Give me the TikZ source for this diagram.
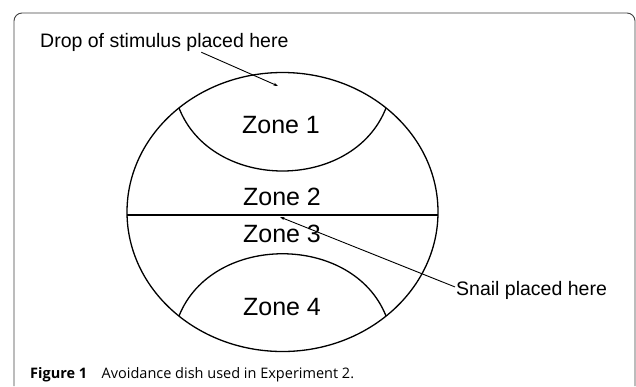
\documentclass[tikz,border=0pt]{standalone}
\usepackage{fontspec}
\setmainfont{Liberation Sans}
\newfontfamily\capfont{Open Sans}
\usetikzlibrary{arrows.meta,positioning}

\begin{document}
\begin{tikzpicture}[x=1pt, y=-1pt, >={Stealth[length=4.5pt,width=3pt]},
    zone/.style={font=\fontsize{25}{29}\selectfont, anchor=base},
    note/.style={font=\fontsize{19.5}{23}\selectfont, anchor=base west, inner sep=1pt},
    dish/.style={line width=1.3pt},
    pointer/.style={->, line width=0.9pt}]
    \useasboundingbox (0,0) rectangle (636,386);
    % panel frame
    \draw[black!75, line width=0.9pt, rounded corners=8pt] (14,386) -- (14,13) -- (635,13) -- (635,386);

    % dish and zone borders
    \draw[dish] (282.5,212) ellipse [x radius=155.5, y radius=139.5];
    \draw[dish] (127,215) -- (438,215);
    \draw[dish] (179,108) .. controls (212,192) and (353,192) .. (386,108);
    \draw[dish] (179,316) .. controls (212,233) and (353,233) .. (386,316);

    \node[zone] (z1) at (281,133) {Zone 1};
    \node[zone] (z2) at (282,205) {Zone 2};
    \node[zone] (z3) at (282,242) {Zone 3};
    \node[zone] (z4) at (282,315) {Zone 4};

    \node[note] (drop) at (39,47) {Drop of stimulus placed here};
    \node[note] (snail) at (455,295) {Snail placed here};
    \coordinate (dropspot) at (278,86);
    \coordinate (snailspot) at (280,217);

    \draw[pointer] ([xshift=37pt]drop.south) -- (dropspot);
    \draw[pointer] ([yshift=3pt]snail.west) -- (snailspot);

    \node[anchor=base west, inner sep=0, font=\capfont\fontsize{14.5}{17}\selectfont] (caption) at (30,378)
        {\textbf{Figure 1}\quad Avoidance dish used in Experiment 2.};
\end{tikzpicture}
\end{document}
